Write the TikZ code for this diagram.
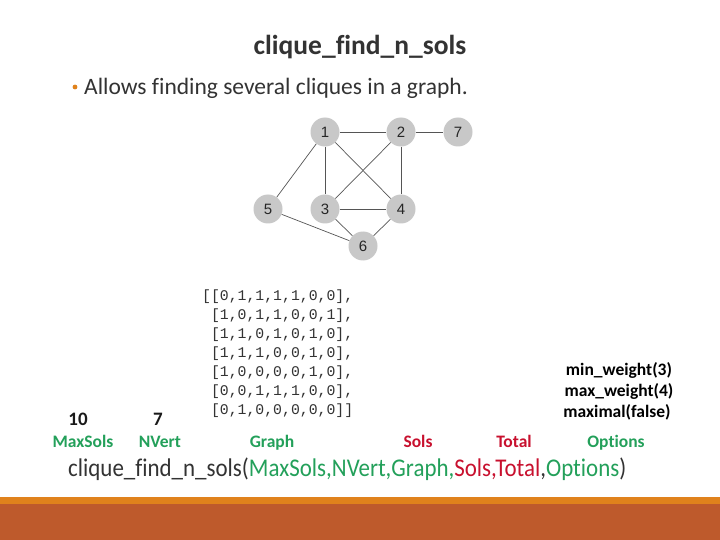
\documentclass[tikz,border=0pt]{standalone}
\usepackage{fontspec}
\setmainfont[Ligatures=NoCommon]{Carlito}
\newfontfamily\arialf{Liberation Sans}
\newfontfamily\monof{Liberation Mono}
\definecolor{txtdark}{HTML}{333333}
\definecolor{grn}{HTML}{23A05A}
\definecolor{rd}{HTML}{C8102E}
\definecolor{bulletc}{HTML}{E0821C}
\definecolor{barc}{HTML}{BE5A2C}
\definecolor{stripec}{HTML}{E0821C}
\definecolor{nodeg}{HTML}{C8C8C8}
\definecolor{edgeg}{HTML}{555555}
\begin{document}
\begin{tikzpicture}[x=1pt,y=-1pt,
  vert/.style={circle,fill=nodeg,minimum size=29pt,inner sep=0pt,font=\arialf\fontsize{15}{15}\selectfont,text=black!85},
  edge/.style={draw=edgeg,line width=0.7pt},
  lbl/.style={font=\bfseries\fontsize{17.5}{17.5}\selectfont,anchor=base},
  opt/.style={font=\bfseries\fontsize{17.5}{17.5}\selectfont,anchor=base,text=black},
  mat/.style={font=\monof\fontsize{14.8}{14.8}\selectfont,anchor=base west,text=txtdark,inner sep=0pt}]
\useasboundingbox (0,0) rectangle (720,540);
\fill[white] (0,0) rectangle (720,540);
% bottom bar
\fill[stripec] (0,497) rectangle (720,504);
\fill[barc] (0,504) rectangle (720,540);
% title
\node[font=\bfseries\fontsize{27.5}{27.5}\selectfont,text=txtdark,anchor=base] (title) at (360,55) {clique\_find\_n\_sols};
\node[font=\fontsize{23.5}{23.5}\selectfont,text=txtdark,anchor=base west,inner sep=0pt] (bullet) at (84,95) {Allows finding several cliques in a graph.};
\fill[bulletc] (75,87) circle (2.4pt);
% graph
\node[vert] (n1) at (325,132) {1};
\node[vert] (n2) at (401,132) {2};
\node[vert] (n7) at (458,132) {7};
\node[vert] (n5) at (268,209) {5};
\node[vert] (n3) at (325,209) {3};
\node[vert] (n4) at (401,209) {4};
\node[vert] (n6) at (363,246) {6};
\draw[edge] (n1) -- (n2);
\draw[edge] (n2) -- (n7);
\draw[edge] (n1) -- (n3);
\draw[edge] (n1) -- (n4);
\draw[edge] (n1) -- (n5);
\draw[edge] (n2) -- (n3);
\draw[edge] (n2) -- (n4);
\draw[edge] (n3) -- (n4);
\draw[edge] (n3) -- (n6);
\draw[edge] (n4) -- (n6);
\draw[edge] (n5) -- (n6);
% matrix
\node[mat] (m1) at (202,300) {[[0,1,1,1,1,0,0],};
\node[mat] (m2) at (202,319) {\ [1,0,1,1,0,0,1],};
\node[mat] (m3) at (202,338) {\ [1,1,0,1,0,1,0],};
\node[mat] (m4) at (202,357) {\ [1,1,1,0,0,1,0],};
\node[mat] (m5) at (202,376) {\ [1,0,0,0,0,1,0],};
\node[mat] (m6) at (202,395) {\ [0,0,1,1,1,0,0],};
\node[mat] (m7) at (202,414) {\ [0,1,0,0,0,0,0]]};
% values
\node[font=\bfseries\fontsize{19}{19}\selectfont,anchor=base,text=black!90] (v10) at (78,425) {10};
\node[font=\bfseries\fontsize{19}{19}\selectfont,anchor=base,text=black!90] (v7) at (158,425) {7};
\node[opt] (o1) at (619,375) {min\_weight(3)};
\node[opt] (o2) at (619,396) {max\_weight(4)};
\node[opt] (o3) at (617,417) {maximal(false)};
% labels
\node[lbl,text=grn] (l1) at (83,447) {MaxSols};
\node[lbl,text=grn] (l2) at (160,447) {NVert};
\node[lbl,text=grn] (l3) at (272,447) {Graph};
\node[lbl,text=rd] (l4) at (418,447) {Sols};
\node[lbl,text=rd] (l5) at (514,447) {Total};
\node[lbl,text=grn] (l6) at (616,447) {Options};
% function line
\node[anchor=base west,inner sep=0pt,font=\fontsize{25.5}{25.5}\selectfont] (fn) at (68,476)
  {\scalebox{0.9}[1]{\color{txtdark}clique\_find\_n\_sols(\color{grn}MaxSols,NVert,Graph,\color{rd}Sols,Total\color{txtdark},\color{grn}Options\color{txtdark})}};
\end{tikzpicture}
\end{document}
